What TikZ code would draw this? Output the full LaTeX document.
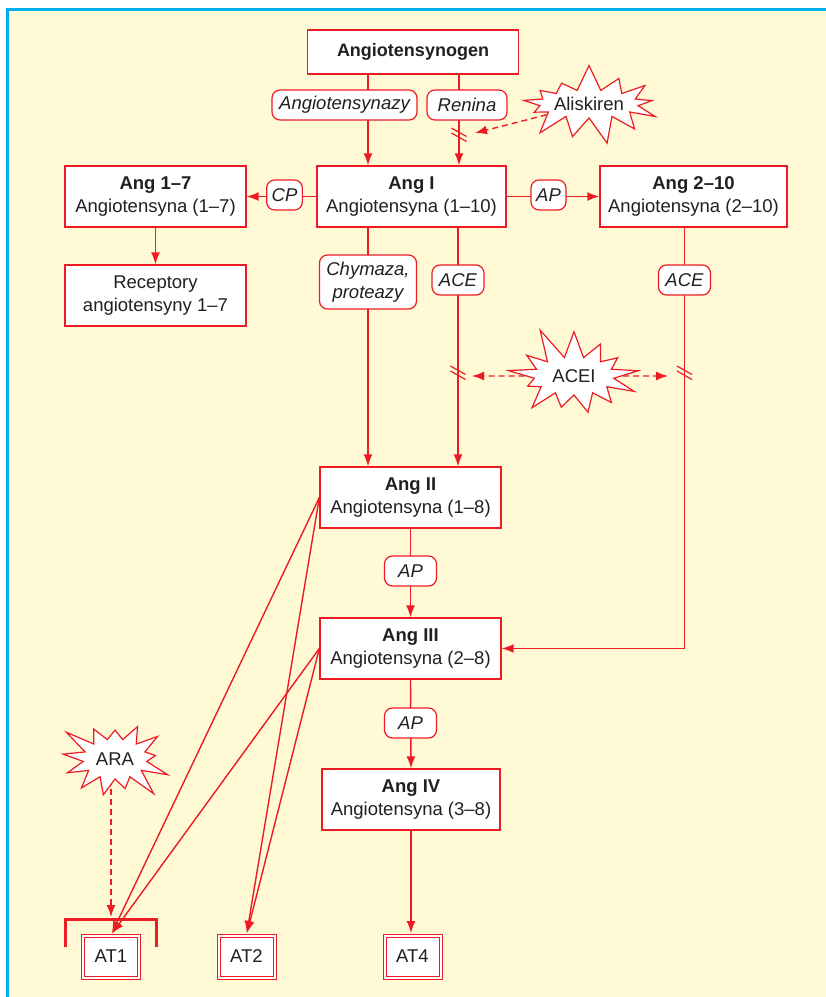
\documentclass[tikz,border=0pt]{standalone}
\usepackage{fontspec}
\setmainfont{Liberation Sans}
\usetikzlibrary{arrows.meta,shapes.symbols}
\definecolor{rd}{HTML}{ED1C24}
\definecolor{cream}{HTML}{FFF9D5}
\definecolor{cyanb}{HTML}{00AEEF}
\definecolor{ink}{HTML}{231F20}
\pgfdeclarelayer{bg}
\pgfdeclarelayer{lines}
\pgfsetlayers{bg,lines,main}
\begin{document}
\begin{tikzpicture}[x=1pt,y=-1pt,
  every node/.style={font=\fontsize{18.5pt}{23pt}\selectfont, text=ink},
  box/.style={draw=rd, line width=1.3pt, fill=white, align=center, inner sep=0pt, minimum width=181pt, minimum height=61pt},
  pill/.style={draw=rd, line width=1.2pt, fill=white, rounded corners=8pt, font=\fontsize{18.5pt}{23pt}\selectfont\itshape, minimum height=30pt, inner xsep=5pt, inner ysep=0pt, align=center},
  conn/.style={draw=rd, line width=1.4pt},
  arr/.style={conn, -{Latex[length=12pt,width=9pt]}},
  darr/.style={arr, dash pattern=on 6pt off 4pt},
  burst/.style={shape=starburst, draw=rd, line width=1.2pt, fill=white, inner sep=0pt, starburst points=13},
  atbox/.style={draw=rd, double=white, double distance=2pt, line width=1pt, fill=white, minimum width=56pt, minimum height=42pt, inner sep=0pt},
  brkmark/.style={draw=rd, line width=1.2pt}
]
\useasboundingbox (0,0) rectangle (826,997);
\begin{pgfonlayer}{bg}
  \fill[white] (0,0) rectangle (826,997);
  \fill[cream] (9,11) rectangle (826,997);
  \draw[cyanb, line width=3pt] (7.5,997) -- (7.5,9.5) -- (826,9.5);
\end{pgfonlayer}

% nodes
\node[box, minimum width=211pt, minimum height=44pt, font=\fontsize{18pt}{23pt}\selectfont\bfseries] (gen) at (413,52) {Angiotensynogen};
\node[pill, minimum width=145pt] (angz) at (344.5,105) {Angiotensynazy};
\node[pill, minimum width=80pt] (ren) at (467,105) {Renina};
\node[burst, minimum width=152pt, minimum height=82pt, starburst point height=27pt, random starburst=7] (alis) at (589,104) {Aliskiren};

\node[box, minimum width=189pt] (a1) at (411.5,196.5) {\textbf{Ang I}\\Angiotensyna (1–10)};
\node[box] (a17) at (155.5,196.5) {\textbf{Ang 1–7}\\Angiotensyna (1–7)};
\node[box] (rec) at (155.5,295.5) {Receptory\\angiotensyny 1–7};
\node[box, minimum width=187pt] (a210) at (693.5,196.5) {\textbf{Ang 2–10}\\Angiotensyna (2–10)};
\node[pill, minimum width=35pt] (cp) at (284.5,195) {CP};
\node[pill, minimum width=35pt] (ap1) at (548.5,195) {AP};
\node[pill, minimum width=97pt, minimum height=54pt] (chy) at (368,282) {Chymaza,\\proteazy};
\node[pill, minimum width=52pt] (ace1) at (458,280) {ACE};
\node[pill, minimum width=52pt] (ace2) at (684.5,280) {ACE};
\node[burst, minimum width=148pt, minimum height=106pt, starburst point height=34pt, random starburst=11] (acei) at (574,376) {ACEI};

\node[box] (a2) at (410.5,497.5) {\textbf{Ang II}\\Angiotensyna (1–8)};
\node[pill, minimum width=52pt] (ap2) at (410.5,571) {AP};
\node[box] (a3) at (410.5,648.5) {\textbf{Ang III}\\Angiotensyna (2–8)};
\node[pill, minimum width=52pt] (ap3) at (410.5,723) {AP};
\node[box, minimum width=178pt] (a4) at (411,799.5) {\textbf{Ang IV}\\Angiotensyna (3–8)};
\node[burst, minimum width=120pt, minimum height=96pt, starburst point height=28pt, random starburst=3] (ara) at (115,759) {ARA};

\node[atbox] (at1) at (111,956.5) {AT1};
\node[atbox] (at2) at (246.5,956.5) {AT2};
\node[atbox] (at4) at (412.5,956.5) {AT4};

% named helper coordinates
\coordinate (xa) at (368,0);
\coordinate (xr) at (459,0);
\coordinate (b1) at (459,135);
\coordinate (b2) at (458,373);
\coordinate (b3) at (684.5,373);
\coordinate (t1) at (475,133);
\coordinate (t2) at (472,376);
\coordinate (t3) at (668,376);
\coordinate (brkc) at (111,919);

% bracket
\draw[rd, line width=3pt] (65,947) -- (65,919) -- (156,919) -- (156,947);

\begin{pgfonlayer}{lines}
  \draw[arr] (gen.south -| xa) -- (a1.north -| xa);
  \draw[arr] (gen.south -| xr) -- (a1.north -| xr);
  \draw[arr] (a1.west) -- (a17.east);
  \draw[arr] (a1.east) -- (a210.west);
  \draw[arr] (a17.south) -- (rec.north);
  \draw[arr] (a1.south -| chy) -- (a2.north -| chy);
  \draw[arr] (a1.south -| ace1) -- (a2.north -| ace1);
  \draw[arr] (a210.south -| ace2) |- (a3.east);
  \draw[arr] (a2.south) -- (a3.north);
  \draw[arr] (a3.south) -- (a4.north);
  \draw[arr, shorten >=2pt] (a4.south) -- (a4.south |- at4.north);
  \draw[arr, shorten >=2pt] (a2.west) -- (at1.north);
  \draw[arr, shorten >=2pt] (a3.west) -- (at1.north);
  \draw[arr, shorten >=2pt] (a2.west) -- (at2.north);
  \draw[arr, shorten >=2pt] (a3.west) -- (at2.north);
  \draw[darr] (alis) -- (t1);
  \draw[darr] (acei) -- (t2);
  \draw[darr] (acei) -- (t3);
  \draw[darr, shorten >=2pt] (at1 |- ara) -- (brkc);
\end{pgfonlayer}

% break marks
\foreach \c in {b1,b2,b3}{
  \draw[brkmark] ([shift={(-7.5,-7)}]\c) -- ++(15,8.5);
  \draw[brkmark] ([shift={(-7.5,-2)}]\c) -- ++(15,8.5);
}
\end{tikzpicture}
\end{document}
